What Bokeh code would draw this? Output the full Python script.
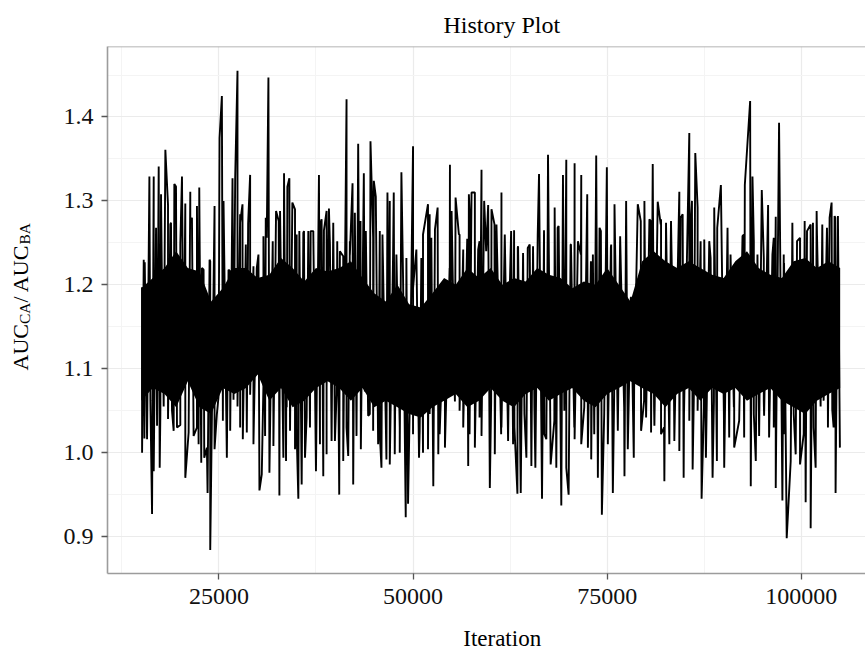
import math
import numpy as np
from bokeh.plotting import figure
from bokeh.layouts import row, column
from bokeh.models import Range1d, FixedTicker, Label, Span, Title, NumeralTickFormatter
from bokeh.embed import file_html
from bokeh.resources import INLINE

# ---------------- data ----------------
# tall upward excursions of the trace (iteration, AUC_CA/AUC_BA)
up_iter = [15111, 15453, 16053, 16609, 16909, 17251, 17551, 18108, 18450, 18835,
           19264, 19478, 20248, 20676, 21318, 21532, 22175, 22474, 23031, 23801,
           24443, 25086, 25385, 25599, 26241, 26755, 27098, 27397, 27740, 28040,
           28468, 28767, 29024, 29452, 30094, 30737, 31036, 31379, 31935, 32363,
           32706, 33391, 33819, 34076, 34461, 34803, 35360, 35959, 36516, 36816,
           37158, 37886, 38228, 38528, 38870, 39170, 39727, 40240, 41011, 41439,
           41867, 42210, 42509, 42937, 43237, 43665, 43922, 44521, 44949, 45206,
           45720, 46063, 46705, 47005, 47518, 47861, 48503, 49145, 50000, 50429,
           51071, 51927, 52355,
           52824, 53167, 54108, 54751, 54965, 55478, 55906, 56463, 56977, 57191,
           57533, 57961, 58389, 58818, 59160, 59674, 60102, 60744, 61386, 61814,
           62456, 63013, 63527, 64169, 65025, 65453, 66224, 66866, 67380, 68236,
           68749, 69306, 69734, 70291, 70804, 71232, 71661, 72431, 73159, 73587,
           74015, 74957, 75514, 75942, 76670, 77440, 78082, 78938, 79794, 80437,
           80865, 81507, 81935, 82577, 83219, 84289, 84718, 85574, 85916, 86344,
           86644, 87500, 88142, 88785, 89641, 90497, 91353, 92423, 92723, 93408,
           93708, 94350, 94906, 95720, 96276, 96704, 97132, 97775, 98845, 99830,
           100429, 101200, 101499, 101970, 102698, 103340, 103640, 103897, 104282, 104710]
up_val = [1.197, 1.227, 1.329, 1.329, 1.268, 1.341, 1.308, 1.361, 1.295, 1.274,
          1.320, 1.317, 1.329, 1.297, 1.311, 1.280, 1.294, 1.316, 1.218, 1.230,
          1.294, 1.375, 1.425, 1.300, 1.218, 1.327, 1.327, 1.455, 1.274, 1.296,
          1.248, 1.273, 1.331, 1.222, 1.236, 1.258, 1.280, 1.447, 1.252, 1.288,
          1.276, 1.333, 1.317, 1.327, 1.298, 1.290, 1.264, 1.264, 1.264, 1.264,
          1.264, 1.331, 1.278, 1.265, 1.288, 1.291, 1.274, 1.252, 1.234, 1.421,
          1.252, 1.321, 1.286, 1.368, 1.276, 1.333, 1.264, 1.371, 1.324, 1.305,
          1.264, 1.260, 1.310, 1.300, 1.310, 1.236, 1.334, 1.232, 1.365, 1.242,
          1.232, 1.296, 1.256,
          1.266, 1.292, 1.198, 1.343, 1.288, 1.304, 1.260, 1.242, 1.255, 1.308,
          1.310, 1.310, 1.242, 1.337, 1.300, 1.295, 1.290, 1.272, 1.310, 1.260,
          1.196, 1.265, 1.246, 1.238, 1.248, 1.246, 1.332, 1.265, 1.355, 1.292,
          1.270, 1.331, 1.349, 1.248, 1.345, 1.252, 1.331, 1.308, 1.236, 1.354,
          1.268, 1.340, 1.248, 1.296, 1.258, 1.300, 1.185, 1.296, 1.300, 1.278,
          1.344, 1.299, 1.278, 1.274, 1.276, 1.311, 1.284, 1.381, 1.300, 1.357,
          1.292, 1.254, 1.252, 1.292, 1.319, 1.268, 1.192, 1.258, 1.319, 1.419,
          1.329, 1.236, 1.313, 1.295, 1.236, 1.281, 1.393, 1.226, 1.274, 1.256,
          1.276, 1.272, 1.274, 1.288, 1.272, 1.244, 1.280, 1.298, 1.282, 1.282]

# deep downward excursions of the trace
down_iter = [15111, 15411, 15753, 16395, 16609, 17037, 17380, 17893, 18450, 18964,
             19606, 20034, 20676, 21104, 21746, 22389, 22731, 23116, 23544, 23887,
             24443, 24957, 25514, 26027, 26456, 26884, 27397, 28082, 28596, 29452,
             30223, 30522, 30951, 31507, 32021, 32791, 33305, 33648, 34161, 34803,
             35232, 35660, 36088, 36730, 37501, 38014, 38442, 38870, 39513, 39941,
             40497, 41011, 41653, 42295, 42723, 43280, 43794, 44222, 44864, 45506,
             45934, 46576, 47005, 47647, 48289, 49060, 49359, 50000, 50771, 51285,
             51927,
             52610, 53252, 54108, 54751, 55393, 56463, 57105, 57961, 58818, 59888,
             60530, 61386, 62242, 62884, 63441, 63869, 64597, 65239, 65753, 66609,
             67165, 67722, 68450, 69092, 69734, 70034, 70804, 71661, 72517, 72945,
             73801, 74315, 75085, 75728, 76370, 77226, 77654, 78425, 79366, 80009,
             80651, 81079, 81935, 82363, 83005, 83647, 84289, 84846, 85574, 86002,
             86644, 87158, 87714, 88571, 89127, 90069, 90711, 91353, 91996, 92638,
             93490, 94136, 94564, 95206, 95849, 96704, 97561, 98117, 98631, 99273,
             99830, 100557, 101200, 101842, 102484, 103426, 103983, 104411, 104967]
down_val = [1.000, 1.017, 1.016, 0.927, 0.978, 1.032, 0.982, 1.055, 1.040, 1.050,
            1.030, 1.033, 0.970, 1.024, 1.020, 1.010, 0.988, 0.994, 0.952, 0.884,
            1.004, 1.067, 1.038, 0.994, 1.026, 1.063, 1.055, 1.016, 1.024, 1.010,
            0.955, 0.974, 1.020, 0.976, 1.008, 0.949, 0.994, 0.990, 1.026, 1.004,
            0.945, 0.962, 0.994, 1.030, 0.978, 1.010, 0.972, 0.998, 1.014, 1.014,
            0.950, 0.990, 0.996, 0.962, 1.020, 1.004, 1.073, 1.044, 1.026, 1.010,
            0.982, 0.992, 0.986, 0.998, 1.000, 0.923, 0.939, 1.022, 0.994, 1.000,
            1.004,
            0.960, 0.998, 1.006, 1.099, 1.061, 1.030, 0.984, 1.006, 1.020, 0.958,
            0.998, 1.030, 1.014, 1.010, 0.951, 0.952, 0.994, 0.984, 0.982, 0.945,
            1.016, 0.986, 0.982, 0.937, 0.982, 0.950, 1.016, 1.010, 1.006, 0.992,
            0.970, 0.926, 1.010, 0.952, 1.026, 0.972, 1.004, 0.994, 1.026, 1.042,
            1.024, 1.032, 1.022, 0.966, 1.010, 1.014, 1.002, 0.970, 1.038, 0.980,
            1.050, 0.945, 0.994, 0.970, 0.990, 0.982, 1.018, 1.006, 1.038, 1.018,
            0.960, 0.990, 1.020, 1.044, 1.018, 0.958, 0.943, 0.898, 0.990, 0.998,
            0.986, 0.941, 0.910, 0.982, 1.055, 1.030, 1.051, 0.952, 1.006]

# medium-height peaks of the trace
mid_hi_iter = [15324, 17679, 18749, 20034, 21318, 22816, 23886, 26455, 27739, 29024,
               29880, 31164, 32877, 33733, 35017, 35873, 36943, 38014, 39298, 40582,
               41867, 43579, 44863, 46148, 47432, 48716, 50001, 51285, 52141, 53425,
               54710, 55994, 57278, 58563, 59419,
               60489, 62630, 63486, 64770, 66055, 67339, 68623, 70336, 71620, 72904,
               74189, 75473, 76757, 78041, 79326, 80610, 81894, 83179, 84463, 85747,
               87032, 88316, 89172, 90884, 92597, 93881, 95165, 96450, 97734, 99446,
               100731, 102015, 103299, 104370]
mid_hi_val = [1.230, 1.192, 1.272, 1.248, 1.276, 1.220, 1.228, 1.216, 1.284, 1.248,
              1.220, 1.256, 1.288, 1.212, 1.260, 1.262, 1.264, 1.272, 1.248, 1.240,
              1.236, 1.260, 1.256, 1.216, 1.236, 1.208, 1.196, 1.260, 1.284, 1.192,
              1.220, 1.260, 1.288, 1.252, 1.240,
              1.272, 1.264, 1.244, 1.244, 1.260, 1.264, 1.268, 1.248, 1.236, 1.228,
              1.264, 1.244, 1.220, 1.185, 1.276, 1.276, 1.272, 1.248, 1.280, 1.272,
              1.252, 1.232, 1.268, 1.236, 1.260, 1.252, 1.232, 1.256, 1.236, 1.252,
              1.264, 1.260, 1.268, 1.280]

# medium-depth troughs of the trace
mid_lo_iter = [16181, 17465, 19177, 20462, 22174, 23458, 24743, 26455, 27739, 29024,
               30736, 32020, 33733, 35017, 36301, 37586, 38870, 40154, 41439, 43151,
               44435, 45720, 47004, 48288, 49572, 50857, 52141, 53425, 54710, 55994,
               57278, 58563,
               60061, 61346, 63058, 64342, 65627, 66911, 68195, 69479, 70764, 72048,
               73332, 74617, 75901, 77185, 78470, 79754, 81038, 82322, 83607, 84891,
               86175, 87460, 88744, 90028, 91313, 92597, 93881, 95165, 96450, 97734,
               99018, 100303, 101587, 102871, 104156]
mid_lo_val = [1.062, 1.046, 1.026, 1.077, 1.030, 1.006, 1.046, 1.062, 1.030, 1.069,
              1.081, 1.038, 1.054, 1.022, 1.042, 1.054, 1.077, 1.069, 1.030, 1.077,
              1.046, 1.022, 1.054, 1.030, 1.054, 1.026, 1.046, 1.022, 1.077, 1.050,
              1.022, 1.042,
              1.062, 1.022, 1.030, 1.046, 1.054, 1.022, 1.038, 1.050, 1.030, 1.054,
              1.022, 1.046, 1.069, 1.054, 1.077, 1.062, 1.054, 1.030, 1.062, 1.046,
              1.077, 1.054, 1.062, 1.046, 1.054, 1.077, 1.046, 1.062, 1.030, 1.022,
              1.046, 1.022, 1.030, 1.062, 1.030]

# the trace is so dense in its middle that it prints as solid black: edges of that core
core_iter = [15000, 16500, 18000, 19500, 21000, 22500, 24000, 25500, 27000, 28500,
             30000, 31500, 33000, 34500, 36000, 37500, 39000, 40500, 42000, 43500,
             45000, 46500, 48000, 49500, 51000, 52500, 54000, 55500, 57000, 58500,
             60000, 61500, 63000, 64500, 66000, 67500, 69000, 70500, 72000, 73500,
             75000, 76500, 78000, 79500, 81000, 82500, 84000, 85500, 87000, 88500,
             90000, 91500, 93000, 94500, 96000, 97500, 99000, 100500, 102000, 103500, 105000]
core_hi = [1.196, 1.208, 1.220, 1.240, 1.220, 1.216, 1.180, 1.196, 1.220, 1.220,
           1.208, 1.212, 1.232, 1.220, 1.204, 1.220, 1.216, 1.220, 1.228, 1.208,
           1.190, 1.180, 1.200, 1.177, 1.173, 1.190, 1.208, 1.200, 1.220, 1.208,
           1.220, 1.200, 1.208, 1.204, 1.220, 1.212, 1.208, 1.196, 1.204, 1.200,
           1.220, 1.200, 1.180, 1.228, 1.240, 1.228, 1.220, 1.228, 1.220, 1.212,
           1.208, 1.228, 1.240, 1.220, 1.212, 1.208, 1.228, 1.232, 1.220, 1.228, 1.220]
core_lo = [1.062, 1.077, 1.070, 1.054, 1.085, 1.054, 1.046, 1.077, 1.070, 1.077,
           1.093, 1.062, 1.077, 1.054, 1.062, 1.077, 1.085, 1.077, 1.062, 1.077,
           1.054, 1.062, 1.054, 1.046, 1.042, 1.054, 1.062, 1.070, 1.054, 1.062,
           1.077, 1.062, 1.054, 1.070, 1.077, 1.062, 1.070, 1.077, 1.062, 1.054,
           1.070, 1.077, 1.085, 1.077, 1.070, 1.054, 1.070, 1.077, 1.062, 1.077,
           1.070, 1.077, 1.062, 1.070, 1.077, 1.062, 1.054, 1.046, 1.062, 1.070, 1.077]

x_ticks = [25000, 50000, 75000, 100000]
x_minor = [12500, 37500, 62500, 87500]
y_ticks = [0.9, 1.0, 1.1, 1.2, 1.3, 1.4]
y_minor = [0.95, 1.05, 1.15, 1.25, 1.35, 1.45]

title_text = "History Plot"
x_title = "Iteration"

# ---------------- build the trace ----------------
it_all = np.array(up_iter + down_iter + mid_hi_iter + mid_lo_iter, dtype=float)
val_all = np.array(up_val + down_val + mid_hi_val + mid_lo_val, dtype=float)
order = np.argsort(it_all, kind="stable")
trace_x = it_all[order]
trace_y = val_all[order]

FONT = "Liberation Serif"
GRID = "#ebebeb"
BORDER = "#9c9c9c"

x_range = Range1d(10658, 108262)
y_range = Range1d(0.856, 1.484)

p = figure(width=820, height=615, x_range=x_range, y_range=y_range,
           output_backend="svg", toolbar_location=None,
           min_border_left=62, min_border_right=0, min_border_top=45, min_border_bottom=42,
           background_fill_color="white", border_fill_color="white")
p.outline_line_color = None

p.varea(x=core_iter, y1=core_lo, y2=core_hi, fill_color="black", fill_alpha=1.0)
p.line(trace_x, trace_y, line_color="black", line_width=1.9)

# top border of the panel
p.add_layout(Span(location=y_range.end, dimension="width", line_color=BORDER, line_width=1.6))

for ax, ticks, minor, fmt in ((p.xaxis[0], x_ticks, x_minor, "0"), (p.yaxis[0], y_ticks, y_minor, "0.0")):
    ax.ticker = FixedTicker(ticks=ticks, minor_ticks=minor)
    ax.formatter = NumeralTickFormatter(format=fmt)
    ax.axis_line_color = BORDER
    ax.axis_line_width = 1.6
    ax.major_tick_line_color = "#555555"
    ax.major_tick_line_width = 1.3
    ax.major_tick_out = 6
    ax.major_tick_in = 0
    ax.minor_tick_out = 0
    ax.minor_tick_in = 0
    ax.major_label_text_font = FONT
    ax.major_label_text_font_size = "24px"
    ax.major_label_text_color = "#111111"
    ax.axis_label = None

p.xaxis[0].major_label_standoff = 9
p.yaxis[0].major_label_standoff = 8

for g in (p.xgrid[0], p.ygrid[0]):
    g.grid_line_color = GRID
    g.grid_line_width = 1.2
    g.minor_grid_line_color = "#f4f4f4"
    g.minor_grid_line_width = 1.0
p.xgrid[0].ticker = FixedTicker(ticks=x_ticks, minor_ticks=x_minor)
p.ygrid[0].ticker = FixedTicker(ticks=y_ticks, minor_ticks=y_minor)

p.title = Title(text=title_text, align="left", offset=336, standoff=18,
                text_font=FONT, text_font_size="24px", text_font_style="normal", text_color="black")

# ---------------- y-axis title in a narrow strip to the left ----------------
q = figure(width=45, height=615, x_range=Range1d(0, 1), y_range=Range1d(0, 1),
           output_backend="svg", toolbar_location=None, x_axis_type=None, y_axis_type=None,
           min_border_left=0, min_border_right=0, min_border_top=0, min_border_bottom=0,
           background_fill_color="white", border_fill_color="white")
q.outline_line_color = None
q.grid.visible = False

main_fs, sub_fs = 22.0, 15.5
w = {"A": 0.722, "U": 0.722, "C": 0.667, "B": 0.667, "/": 0.278, " ": 0.25}
pieces = [("AUC", main_fs, 0.0), ("CA", sub_fs, 4.0), ("/ AUC", main_fs, 0.0), ("BA", sub_fs, 4.0)]
ypos = 203.0
base_x = 20.0
for txt, fs, drop in pieces:
    q.add_layout(Label(x=base_x + drop, y=ypos, x_units="screen", y_units="screen", text=txt,
                       angle=math.pi / 2, text_font=FONT, text_font_size=f"{fs}px",
                       text_color="black", text_align="left", text_baseline="alphabetic"))
    ypos += sum(w[c] for c in txt) * fs

# ---------------- x-axis title in a strip below ----------------
s = figure(width=865, height=35, x_range=Range1d(0, 1), y_range=Range1d(0, 1),
           output_backend="svg", toolbar_location=None, x_axis_type=None, y_axis_type=None,
           min_border_left=0, min_border_right=0, min_border_top=0, min_border_bottom=0,
           background_fill_color="white", border_fill_color="white")
s.outline_line_color = None
s.grid.visible = False
s.add_layout(Label(x=501.7, y=12.5, x_units="screen", y_units="screen", text=x_title,
                   text_font=FONT, text_font_size="23px", text_color="black",
                   text_align="center", text_baseline="alphabetic"))

layout = column(row(q, p), s)
open("out.html", "w").write(file_html(layout, INLINE))
